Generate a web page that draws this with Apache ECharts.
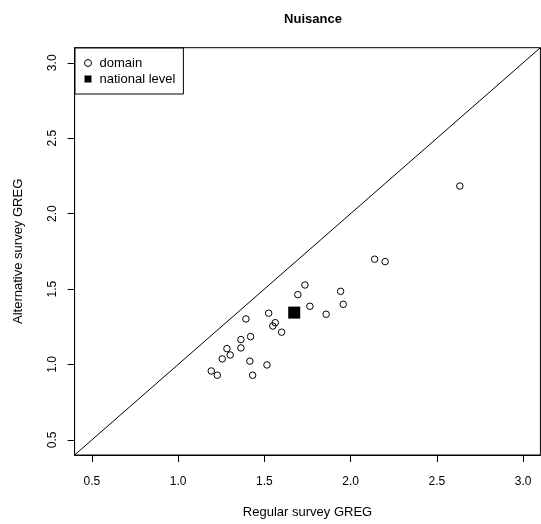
<!DOCTYPE html>
<html>
<head>
<meta charset="utf-8">
<script src="https://cdn.jsdelivr.net/npm/echarts@6/dist/echarts.min.js"></script>
<style>
  html, body { margin: 0; padding: 0; background: #fff; }
  #chart { width: 541px; height: 524px; }
</style>
</head>
<body>
<div id="chart"></div>
<script>
// Domain estimates: regular survey GREG (x) vs alternative survey GREG (y)
const domainRegular = [1.735, 1.694, 1.942, 1.957, 1.764, 1.858, 1.525, 1.393, 1.563, 1.549,
  1.600, 1.364, 1.420, 1.283, 1.364, 1.302, 1.256, 1.416, 1.515, 1.192, 1.227, 1.432,
  2.633, 2.139, 2.200];
const domainAlternative = [1.527, 1.463, 1.485, 1.399, 1.386, 1.333, 1.340, 1.302, 1.277, 1.255,
  1.214, 1.165, 1.185, 1.105, 1.110, 1.063, 1.037, 1.022, 0.997, 0.957, 0.929, 0.929,
  2.183, 1.698, 1.682];

// National-level estimate
const nationalRegular = [1.673];
const nationalAlternative = [1.344];

// Axis limits and tick positions
const axisMin = 0.4;
const axisMax = 3.1;
const tickValues = [0.5, 1.0, 1.5, 2.0, 2.5, 3.0];

// y = x reference line across the whole axis range
const identityLine = [[axisMin, axisMin], [axisMax, axisMax]];

const font = 'Liberation Sans, Arial, Helvetica, sans-serif';

const chart = echarts.init(document.getElementById('chart'), null, { renderer: 'canvas' });

function makeAxis(name, nameGap, rotateLabels) {
  return {
    type: 'value',
    min: axisMin,
    max: axisMax,
    name: name,
    nameLocation: 'middle',
    nameGap: nameGap,
    nameTextStyle: { color: '#000', fontSize: 13, fontFamily: font },
    axisLine: { show: true, onZero: false, lineStyle: { color: '#000', width: 1 } },
    axisTick: {
      show: true, inside: false, length: 7,
      customValues: tickValues,
      lineStyle: { color: '#000', width: 1 }
    },
    axisLabel: {
      show: true,
      customValues: tickValues,
      margin: rotateLabels ? 16 : 21,
      rotate: rotateLabels ? 90 : 0,
      color: '#000', fontSize: 12, fontFamily: font,
      formatter: v => v.toFixed(1)
    },
    splitLine: { show: false }
  };
}

chart.setOption({
  animation: false,
  backgroundColor: '#fff',
  title: {
    text: 'Nuisance',
    left: 308,
    textAlign: 'center',
    top: 8,
    textStyle: { fontSize: 13, fontWeight: 'bold', color: '#000', fontFamily: font }
  },
  grid: {
    left: 74.6, right: 0.6, top: 47.7, bottom: 68.9,
    show: true, borderColor: '#000', borderWidth: 1, backgroundColor: 'transparent'
  },
  legend: {
    left: 75, top: 48,
    orient: 'vertical',
    backgroundColor: '#fff',
    borderColor: '#000', borderWidth: 1,
    padding: [8, 8, 8, 9],
    itemWidth: 7, itemHeight: 7, itemGap: 2,
    textStyle: { fontSize: 13, color: '#000', fontFamily: font, lineHeight: 14, padding: [0, 0, 0, 3] },
    data: [
      { name: 'domain', icon: 'circle',
        itemStyle: { color: 'rgba(255,255,255,0)', borderColor: '#000', borderWidth: 1, opacity: 1 } },
      { name: 'national level', icon: 'rect',
        itemStyle: { color: '#000', borderWidth: 0, opacity: 1 } }
    ]
  },
  xAxis: makeAxis('Regular survey GREG', 51, false),
  yAxis: makeAxis('Alternative survey GREG', 50, true),
  series: [
    {
      name: 'y = x',
      type: 'line',
      data: identityLine,
      showSymbol: false,
      symbol: 'none',
      clip: true,
      lineStyle: { color: '#000', width: 1 },
      silent: true
    },
    {
      name: 'domain',
      type: 'scatter',
      symbol: 'circle',
      symbolSize: 6.5,
      itemStyle: { color: 'rgba(255,255,255,0)', borderColor: '#000', borderWidth: 1, opacity: 1 },
      data: domainRegular.map((x, i) => [x, domainAlternative[i]])
    },
    {
      name: 'national level',
      type: 'scatter',
      symbol: 'rect',
      symbolSize: 12,
      itemStyle: { color: '#000', opacity: 1 },
      data: nationalRegular.map((x, i) => [x, nationalAlternative[i]])
    }
  ]
});
</script>
</body>
</html>
